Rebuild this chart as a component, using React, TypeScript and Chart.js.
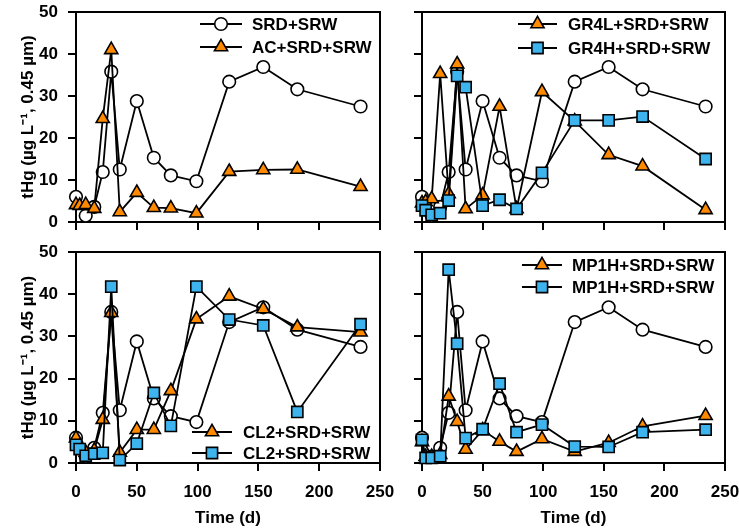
import React, { useEffect, useRef } from "react";
import { Chart, registerables } from "chart.js";

Chart.register(...registerables);

// ---------------- data ----------------
const timeDays = [0, 3, 8, 15, 22, 29, 36, 50, 64, 78, 99, 126, 154, 182, 234];

const srdSrw = [6.0, null, 1.5, 3.6, 11.9, 35.8, 12.5, 28.8, 15.3, 11.1, 9.7, 33.4, 36.9, 31.6, 27.5];
const acSrdSrw = [4.1, 3.9, 4.1, 3.2, 24.6, 41.0, 2.4, 7.0, 3.4, 3.3, 2.1, 12.0, 12.4, 12.5, 8.4];
const gr4lSrdSrw = [4.5, 4.8, 5.5, 35.3, 6.7, 37.6, 3.1, 6.4, 27.5, 3.1, 31.0, 24.0, 16.0, 13.3, 2.9];
const gr4hSrdSrw = [3.9, 2.8, 1.7, 2.1, 5.1, 34.8, 32.1, 3.9, 5.3, 3.1, 11.7, 24.2, 24.2, 25.1, 15.0];
const cl2TriSrdSrw = [5.9, 4.0, 2.5, 3.0, 10.3, 35.6, 2.5, 7.9, 7.9, 17.1, 34.1, 39.5, 36.5, 32.2, 31.0];
const cl2SqSrdSrw = [4.3, 3.3, 1.7, 2.2, 2.4, 41.8, 0.7, 4.6, 16.6, 8.8, 41.8, 34.0, 32.6, 12.1, 32.9];
const mp1hTriSrdSrw = [5.0, 1.5, 1.5, 2.0, 15.8, 9.8, 3.2, 7.8, 5.1, 2.7, 5.7, 2.7, 4.8, 8.7, 11.2];
const mp1hSqSrdSrw = [5.5, 1.2, 1.2, 1.6, 45.8, 28.3, 5.9, 8.0, 18.8, 7.3, 9.1, 3.9, 3.8, 7.3, 7.9];

const xTickValues = [0, 50, 100, 150, 200, 250];
const yTickValues = [0, 10, 20, 30, 40, 50];
const xTitle = "Time (d)";
const yTitle = "tHg (µg L⁻¹, 0.45 µm)";

// ---------------- styles ----------------
const W = 739;
const H = 531;
const FONT = "'Liberation Sans', Arial, Helvetica, sans-serif";
const FS = 17;
const ORANGE = "#FF8A00";
const BLUE = "#3DB4EE";
const LINE_W = 1.8;
const MARK_BW = 1.6;

type Kind = "circle" | "triangle" | "square";
const kindStyle: Record<Kind, { pointStyle: string; radius: number; fill: string; order: number }> = {
  circle: { pointStyle: "circle", radius: 6.3, fill: "#FFFFFF", order: 3 },
  triangle: { pointStyle: "triangle", radius: 7.6, fill: ORANGE, order: 2 },
  square: { pointStyle: "rect", radius: 7.9, fill: BLUE, order: 1 },
};

type Series = { label: string; values: (number | null)[]; kind: Kind };
type Panel = {
  area: { left: number; right: number; top: number; bottom: number };
  xLabels: boolean;
  yLabels: boolean;
  series: Series[];
  legendItems: Series[];
  legend: { x1: number; x2: number; tx: number; ys: number[] };
};

const sSrd: Series = { label: "SRD+SRW", values: srdSrw, kind: "circle" };
const sAc: Series = { label: "AC+SRD+SRW", values: acSrdSrw, kind: "triangle" };
const sGr4l: Series = { label: "GR4L+SRD+SRW", values: gr4lSrdSrw, kind: "triangle" };
const sGr4h: Series = { label: "GR4H+SRD+SRW", values: gr4hSrdSrw, kind: "square" };
const sCl2t: Series = { label: "CL2+SRD+SRW", values: cl2TriSrdSrw, kind: "triangle" };
const sCl2s: Series = { label: "CL2+SRD+SRW", values: cl2SqSrdSrw, kind: "square" };
const sMp1t: Series = { label: "MP1H+SRD+SRW", values: mp1hTriSrdSrw, kind: "triangle" };
const sMp1s: Series = { label: "MP1H+SRD+SRW", values: mp1hSqSrdSrw, kind: "square" };

const panels: Panel[] = [
  {
    area: { left: 76, right: 380, top: 12, bottom: 222 },
    xLabels: false,
    yLabels: true,
    series: [sSrd, sAc],
    legendItems: [sSrd, sAc],
    legend: { x1: 200, x2: 242, tx: 252, ys: [24, 47] },
  },
  {
    area: { left: 422, right: 725, top: 12, bottom: 222 },
    xLabels: false,
    yLabels: false,
    series: [sSrd, sGr4l, sGr4h],
    legendItems: [sGr4l, sGr4h],
    legend: { x1: 518, x2: 557, tx: 568, ys: [24, 48] },
  },
  {
    area: { left: 76, right: 380, top: 252, bottom: 463 },
    xLabels: true,
    yLabels: true,
    series: [sSrd, sCl2t, sCl2s],
    legendItems: [sCl2t, sCl2s],
    legend: { x1: 192, x2: 232, tx: 243, ys: [432, 453] },
  },
  {
    area: { left: 422, right: 725, top: 252, bottom: 463 },
    xLabels: true,
    yLabels: false,
    series: [sSrd, sMp1t, sMp1s],
    legendItems: [sMp1t, sMp1s],
    legend: { x1: 522, x2: 562, tx: 572, ys: [265, 287] },
  },
];

function drawMarker(ctx: CanvasRenderingContext2D, kind: Kind, x: number, y: number) {
  const st = kindStyle[kind];
  const r = st.radius;
  ctx.beginPath();
  if (kind === "circle") {
    ctx.arc(x, y, r, 0, Math.PI * 2);
  } else if (kind === "triangle") {
    let rad = 0;
    ctx.moveTo(x + Math.sin(rad) * r, y - Math.cos(rad) * r);
    rad += (2 * Math.PI) / 3;
    ctx.lineTo(x + Math.sin(rad) * r, y - Math.cos(rad) * r);
    rad += (2 * Math.PI) / 3;
    ctx.lineTo(x + Math.sin(rad) * r, y - Math.cos(rad) * r);
    ctx.closePath();
  } else {
    const s = r * Math.SQRT1_2;
    ctx.rect(x - s, y - s, 2 * s, 2 * s);
  }
  ctx.fillStyle = st.fill;
  ctx.fill();
  ctx.lineWidth = MARK_BW;
  ctx.strokeStyle = "#000";
  ctx.stroke();
}

function makePlugins(p: Panel) {
  const frame = {
    id: "frameBox",
    afterDraw(chart: any) {
      const { ctx, chartArea: a } = chart;
      ctx.save();
      ctx.strokeStyle = "#000";
      ctx.lineWidth = 2;
      ctx.beginPath();
      ctx.moveTo(a.left, a.top);
      ctx.lineTo(a.right, a.top);
      ctx.lineTo(a.right, a.bottom);
      ctx.stroke();
      ctx.restore();
    },
  };
  const legend = {
    id: "miniLegend",
    afterDraw(chart: any) {
      const ctx: CanvasRenderingContext2D = chart.ctx;
      ctx.save();
      p.legendItems.forEach((s, i) => {
        const y = p.legend.ys[i];
        ctx.beginPath();
        ctx.moveTo(p.legend.x1, y);
        ctx.lineTo(p.legend.x2, y);
        ctx.lineWidth = LINE_W;
        ctx.strokeStyle = "#000";
        ctx.stroke();
        drawMarker(ctx, s.kind, (p.legend.x1 + p.legend.x2) / 2, y);
        ctx.fillStyle = "#000";
        ctx.font = `bold ${FS}px ${FONT}`;
        ctx.textAlign = "left";
        ctx.textBaseline = "middle";
        ctx.fillText(s.label, p.legend.tx, y + 1);
      });
      ctx.restore();
    },
  };
  return [frame, legend];
}

function makeConfig(p: Panel): any {
  const tickFont = { family: FONT, size: FS, weight: "bold" as const };
  return {
    type: "line",
    data: {
      datasets: p.series.map((s) => {
        const st = kindStyle[s.kind];
        return {
          label: s.label,
          data: timeDays
            .map((t, j) => ({ x: t, y: s.values[j] }))
            .filter((d) => d.y !== null),
          borderColor: "#000",
          borderWidth: LINE_W,
          backgroundColor: st.fill,
          pointStyle: st.pointStyle,
          pointRadius: st.radius,
          pointHoverRadius: st.radius,
          pointBackgroundColor: st.fill,
          pointBorderColor: "#000",
          pointBorderWidth: MARK_BW,
          tension: 0,
          fill: false,
          clip: false,
          order: st.order,
        };
      }),
    },
    options: {
      animation: false,
      responsive: false,
      devicePixelRatio: 1,
      events: [],
      layout: {
        padding: {
          left: p.yLabels ? 8 : p.area.left - 8,
          right: W - p.area.right,
          top: p.area.top,
          bottom: p.xLabels ? 0 : H - p.area.bottom - 8,
        },
      },
      plugins: {
        legend: { display: false },
        tooltip: { enabled: false },
        title: { display: false },
      },
      scales: {
        x: {
          type: "linear",
          min: 0,
          max: 250,
          afterBuildTicks: (sc: any) => {
            sc.ticks = xTickValues.map((v) => ({ value: v }));
          },
          afterFit: (sc: any) => {
            sc.height = p.xLabels ? H - p.area.bottom : 8;
            sc.paddingLeft = 0;
            sc.paddingRight = 0;
          },
          grid: { drawOnChartArea: false, drawTicks: true, tickLength: 8, color: "#000", lineWidth: 2 },
          border: { display: true, color: "#000", width: 2 },
          ticks: { display: p.xLabels, color: "#000", font: tickFont, padding: 11, maxRotation: 0, autoSkip: false },
          title: { display: p.xLabels, text: xTitle, color: "#000", font: tickFont, padding: { top: 0, bottom: 2 } },
        },
        y: {
          type: "linear",
          min: 0,
          max: 50,
          afterBuildTicks: (sc: any) => {
            sc.ticks = yTickValues.map((v) => ({ value: v }));
          },
          afterFit: (sc: any) => {
            sc.width = p.yLabels ? p.area.left - 8 : 8;
            sc.paddingTop = 0;
            sc.paddingBottom = 0;
          },
          grid: { drawOnChartArea: false, drawTicks: true, tickLength: 8, color: "#000", lineWidth: 2 },
          border: { display: true, color: "#000", width: 2 },
          ticks: { display: p.yLabels, color: "#000", font: tickFont, padding: 10 },
          title: { display: p.yLabels, text: yTitle, color: "#000", font: tickFont, padding: { top: 10, bottom: 0 } },
        },
      },
    },
    plugins: makePlugins(p),
  };
}

export default function App() {
  const canvasRefs = useRef<(HTMLCanvasElement | null)[]>([]);

  useEffect(() => {
    document.body.style.margin = "0";
    const charts = panels.map((p, i) => new Chart(canvasRefs.current[i] as HTMLCanvasElement, makeConfig(p)));
    return () => charts.forEach((c) => c.destroy());
  }, []);

  return (
    <div style={{ position: "relative", width: W, height: H, background: "#fff", overflow: "hidden" }}>
      {panels.map((_, i) => (
        <canvas
          key={i}
          ref={(el) => {
            canvasRefs.current[i] = el;
          }}
          width={W}
          height={H}
          style={{ position: "absolute", left: 0, top: 0, width: W, height: H }}
        />
      ))}
    </div>
  );
}
